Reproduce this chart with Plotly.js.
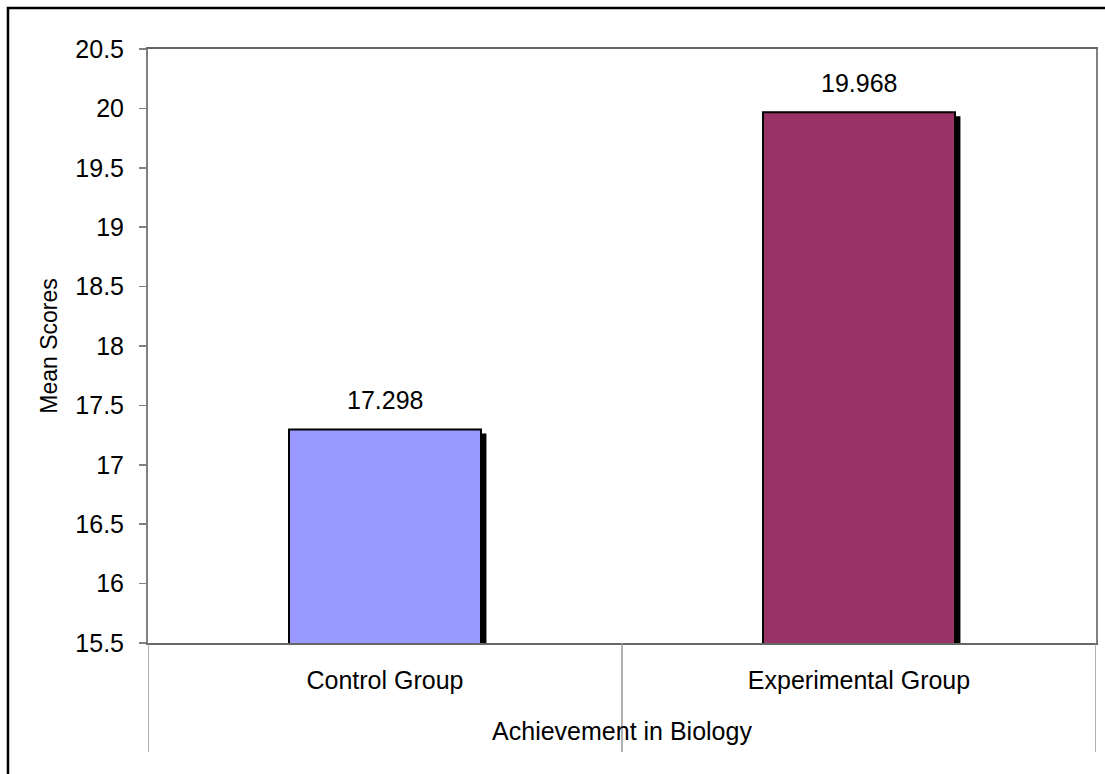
<!DOCTYPE html>
<html>
<head>
<meta charset="utf-8">
<script src="https://cdn.plot.ly/plotly-3.0.1.min.js"></script>
<style>
html,body{margin:0;padding:0;background:#fff;}
#chart{width:1105px;height:774px;}
</style>
</head>
<body>
<div id="chart"></div>
<script>
// ---- data ----
const categories = ["Control Group", "Experimental Group"];
const meanScores = [17.298, 19.968];
const valueLabels = ["17.298", "19.968"];
const barColors = ["#9999FF", "#993366"];
const yTickVals = [15.5, 16, 16.5, 17, 17.5, 18, 18.5, 19, 19.5, 20, 20.5];
const yTickText = ["15.5", "16", "16.5", "17", "17.5", "18", "18.5", "19", "19.5", "20", "20.5"];
const xTitle = "Achievement in Biology";
const yTitle = "Mean Scores";

// ---- style ----
const FONT = "Liberation Sans, Arial, sans-serif";
const barW = 0.405;
const shadowDx = 0.0115;   // category units (~5px)
const shadowDy = 0.034;    // value units (~4px)

const shadow = {
  type: "bar",
  x: categories,
  y: meanScores.map(v => v - shadowDy),
  width: barW,
  offset: -barW / 2 + shadowDx,
  marker: {color: "#000000", line: {width: 0}},
  hoverinfo: "skip",
  showlegend: false
};

const bars = {
  type: "bar",
  x: categories,
  y: meanScores,
  width: barW,
  marker: {color: barColors, line: {color: "#000000", width: 2}},
  hoverinfo: "skip",
  showlegend: false
};

const annotations = categories.map((c, i) => ({
  x: c, y: meanScores[i], xref: "x", yref: "y",
  text: valueLabels[i], showarrow: false,
  yanchor: "bottom", yshift: 13,
  font: {family: FONT, size: 25, color: "#000000"}
}));

const gray = "#808080";
const sepY = -0.1835;
const shapes = [
  // outer chart border (left/top visible)
  {type: "rect", xref: "paper", yref: "paper", x0: -0.1477, x1: 1.2, y0: -0.4, y1: 1.069,
   line: {color: "#000000", width: 2.5}, fillcolor: "rgba(0,0,0,0)", layer: "above"},
  // category separators below the axis
  {type: "line", xref: "x", yref: "paper", x0: -0.5, x1: -0.5, y0: 0, y1: sepY, line: {color: "#999999", width: 1.5}},
  {type: "line", xref: "x", yref: "paper", x0: 0.5, x1: 0.5, y0: 0, y1: sepY, line: {color: "#999999", width: 1.5}},
  {type: "line", xref: "x", yref: "paper", x0: 1.5, x1: 1.5, y0: 0, y1: sepY, line: {color: "#999999", width: 1.5}}
];

const layout = {
  width: 1105, height: 774,
  margin: {l: 148, r: 9, t: 49, b: 131, pad: 0},
  paper_bgcolor: "#ffffff",
  plot_bgcolor: "#ffffff",
  barmode: "overlay",
  showlegend: false,
  font: {family: FONT, size: 25, color: "#000000"},
  xaxis: {
    type: "category",
    range: [-0.5, 1.5],
    showgrid: false, zeroline: false,
    showline: true, linecolor: "#666666", linewidth: 2, mirror: true,
    ticks: "",
    ticklabelstandoff: 14,
    tickfont: {family: FONT, size: 25, color: "#000000"},
    title: {text: xTitle, standoff: 29, font: {family: FONT, size: 25, color: "#000000"}},
    automargin: false,
    fixedrange: true
  },
  yaxis: {
    range: [15.5, 20.5],
    tickvals: yTickVals, ticktext: yTickText,
    showgrid: false, zeroline: false,
    showline: true, linecolor: gray, linewidth: 2, mirror: true,
    ticks: "outside", ticklen: 7, tickwidth: 1.5, tickcolor: gray,
    ticklabelstandoff: 10,
    tickfont: {family: FONT, size: 25, color: "#000000"},
    title: {text: yTitle, standoff: 11, font: {family: FONT, size: 23, color: "#000000"}},
    automargin: false,
    fixedrange: true
  },
  annotations: annotations,
  shapes: shapes
};

Plotly.newPlot("chart", [shadow, bars], layout, {displayModeBar: false, staticPlot: true});
</script>
</body>
</html>
